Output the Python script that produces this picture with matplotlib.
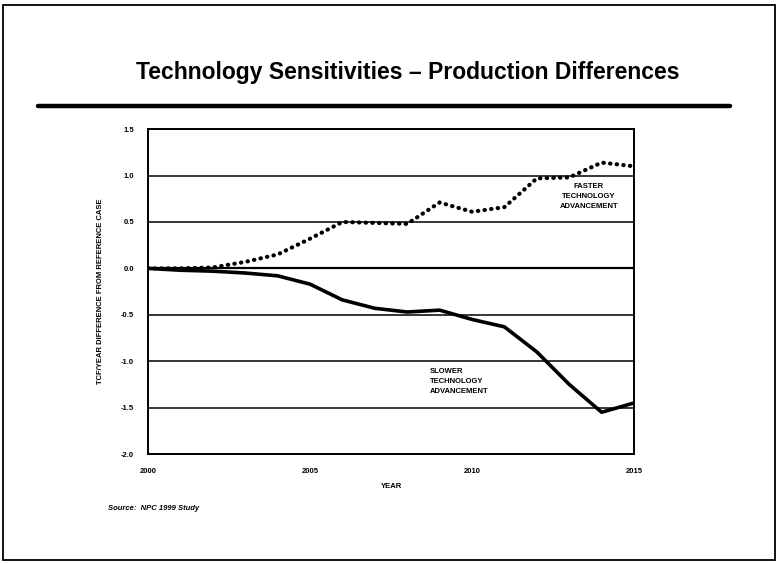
import matplotlib.pyplot as plt
from matplotlib.lines import Line2D
from matplotlib.patches import Rectangle

# ---------------------------------------------------------------------------
# Datos
# ---------------------------------------------------------------------------
anios = [2000, 2001, 2002, 2003, 2004, 2005, 2006, 2007,
         2008, 2009, 2010, 2011, 2012, 2013, 2014, 2015]
mas_rapido = [0.0, 0.0, 0.01, 0.07, 0.15, 0.32, 0.50, 0.49,
              0.48, 0.71, 0.61, 0.66, 0.97, 0.98, 1.14, 1.10]
mas_lento = [0.0, -0.02, -0.03, -0.05, -0.08, -0.17, -0.34, -0.43,
             -0.47, -0.45, -0.55, -0.63, -0.90, -1.25, -1.55, -1.45]

ticks_x = [2000, 2005, 2010, 2015]
ticks_y = [1.5, 1.0, 0.5, 0.0, -0.5, -1.0, -1.5, -2.0]

titulo = "Technology Sensitivities \u2013 Production Differences"
etiqueta_y = "TCF/YEAR DIFFERENCE FROM REFERENCE CASE"
etiqueta_x = "YEAR"
fuente = "Source:  NPC 1999 Study"
texto_rapido = "FASTER\nTECHNOLOGY\nADVANCEMENT"
texto_lento = "SLOWER\nTECHNOLOGY\nADVANCEMENT"

plt.rcParams["font.family"] = ["Liberation Sans", "DejaVu Sans"]

fig = plt.figure(figsize=(7.77, 5.64), dpi=100)
ax = fig.add_axes([0.1905, 0.195, 0.6255, 0.576])

# Marco de la diapositiva
fig.patches.append(Rectangle((0.004, 0.007), 0.993, 0.984, transform=fig.transFigure,
                             fill=False, edgecolor="black", linewidth=1.3))

# Titulo y linea gruesa
fig.text(0.525, 0.872, titulo, ha="center", va="center",
         fontsize=16.5, fontweight="bold")
fig.lines.append(Line2D([0.049, 0.94], [0.812, 0.812], transform=fig.transFigure,
                        color="black", linewidth=3.2, solid_capstyle="round"))

# Rejilla horizontal
for v in ticks_y:
    ax.axhline(v, color="black", linewidth=1.6 if v == 0 else 1.1, zorder=1)

ax.plot(anios, mas_rapido, color="black", linestyle=(0, (0.1, 1.5)),
        linewidth=3.0, dash_capstyle="round", zorder=3)
ax.plot(anios, mas_lento, color="black", linewidth=2.6, zorder=3)

ax.set_xlim(2000, 2015)
ax.set_ylim(-2.0, 1.5)
ax.set_xticks(ticks_x)
ax.set_xticklabels([str(t) for t in ticks_x], fontsize=5.5, fontweight="bold")
ax.set_yticks(ticks_y)
ax.set_yticklabels([f"{t:.1f}" for t in ticks_y], fontsize=5.5, fontweight="bold")
ax.tick_params(length=0, pad=10)
for s in ax.spines.values():
    s.set_linewidth(1.4)

ax.set_xlabel(etiqueta_x, fontsize=5.5, fontweight="bold", labelpad=6)
ax.set_ylabel(etiqueta_y, fontsize=5.5, fontweight="bold", labelpad=12)

ax.text(2013.6, 0.77, texto_rapido, ha="center", va="center",
        fontsize=5.5, fontweight="bold", linespacing=1.6)
ax.text(2008.7, -1.22, texto_lento, ha="left", va="center",
        fontsize=5.5, fontweight="bold", linespacing=1.6)

fig.text(0.139, 0.099, fuente, ha="left", va="center",
         fontsize=5.5, fontweight="bold", style="italic")

fig.savefig("out.png", dpi=100)
